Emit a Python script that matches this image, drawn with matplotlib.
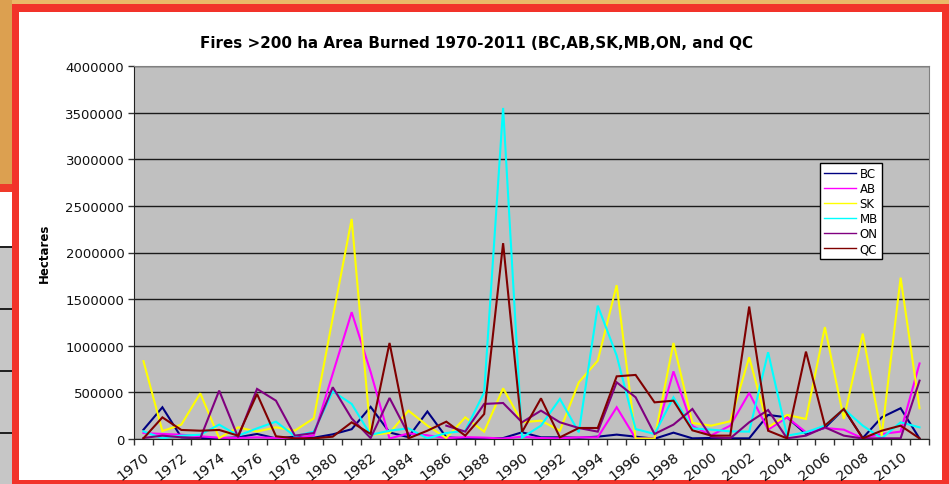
import numpy as np
import matplotlib
matplotlib.use("Agg")
import matplotlib.pyplot as plt
from matplotlib.patches import Rectangle
from matplotlib.lines import Line2D

years = list(range(1970, 2012))
tick_years = [str(y) for y in range(1970, 2011, 2)]

bc = [100000, 340000, 18000, 10000, 7000, 18000, 54000, 7000, 25000, 14000,
      50000, 105000, 345000, 70000, 20000, 295000, 18000, 7000, 10000, 10000,
      72000, 18000, 18000, 14000, 25000, 47000, 25000, 3000, 68000, 7000,
      11000, 7000, 7000, 258000, 232000, 54000, 120000, 320000, 10000, 232000,
      330000, 5000]
ab = [64000, 54000, 46000, 29000, 14000, 11000, 18000, 11000, 7000, 40000,
      700000, 1360000, 720000, 5000, 60000, 40000, 10000, 20000, 15000, 5000,
      25000, 10000, 7000, 18000, 18000, 340000, 7000, 5000, 725000, 140000,
      40000, 143000, 494000, 100000, 232000, 72000, 118000, 100000, 7000, 54000,
      79000, 810000]
sk = [835000, 85000, 154000, 490000, 10000, 125000, 80000, 125000, 90000, 222000,
      1300000, 2360000, 45000, 64000, 304000, 143000, 10000, 232000, 79000, 544000,
      179000, 197000, 89000, 608000, 840000, 1650000, 5000, 5000, 1030000, 172000,
      143000, 190000, 876000, 125000, 258000, 215000, 1200000, 215000, 1130000, 36000,
      1730000, 330000]
mb = [82000, 7000, 36000, 46000, 154000, 36000, 114000, 186000, 30000, 79000,
      510000, 376000, 45000, 89000, 114000, 7000, 64000, 89000, 500000, 3550000,
      15000, 143000, 430000, 72000, 1430000, 894000, 107000, 54000, 447000, 114000,
      100000, 82000, 79000, 930000, 36000, 72000, 143000, 322000, 143000, 7000,
      179000, 125000]
on = [11000, 36000, 18000, 7000, 519000, 18000, 537000, 411000, 36000, 64000,
      555000, 220000, 10000, 440000, 50000, np.nan, 143000, 79000, 376000, 386000,
      179000, 304000, 179000, 118000, 79000, 608000, 447000, 54000, 154000, 322000,
      20000, 7000, 179000, 311000, 7000, 36000, 125000, 36000, 5000, 7000,
      7000, 626000]
qc = [7000, 232000, 97000, 89000, 97000, 36000, 483000, 29000, 7000, 7000,
      25000, 179000, 54000, 1030000, 7000, 89000, 186000, 36000, 268000, 2100000,
      75000, 436000, 18000, 118000, 118000, 672000, 687000, 393000, 411000, 93000,
      36000, 36000, 1420000, 89000, 7000, 937000, 143000, 322000, 7000, 89000,
      143000, 7000]

series_names = ["BC", "AB", "SK", "MB", "ON", "QC"]
series_values = [bc, ab, sk, mb, on, qc]
series_colors = ["#000080", "#FF00FF", "#FFFF00", "#00FFFF", "#800080", "#800000"]

W, H = 949, 485
fig = plt.figure(figsize=(W / 100, H / 100), dpi=100)
fig.patch.set_facecolor("#e6b25e")


def px_rect(x0, y0, x1, y1, color, z=0):
    fig.patches.append(Rectangle((x0 / W, 1 - y1 / H), (x1 - x0) / W, (y1 - y0) / H,
                                 transform=fig.transFigure, facecolor=color,
                                 edgecolor="none", zorder=z))


# slide behind the chart frame
px_rect(0, 0, W, 5, "#eab868")
px_rect(0, 0, 12, 185, "#dca050")
px_rect(0, 185, 12, 193, "#f03a2a")
px_rect(0, 193, 12, 247, "#ffffff")
px_rect(0, 247, 12, H, "#c6c6c6")
for yy in (247, 309, 371, 433):
    px_rect(0, yy, 12, yy + 1.5, "#222222", z=1)

# red frame and white chart area
px_rect(12, 5, W, H, "#f2332a", z=2)
px_rect(19, 13, 942, 481, "#ffffff", z=3)

left, right, top, bottom = 134, 929, 67, 440
ax = fig.add_axes([left / W, 1 - bottom / H, (right - left) / W, (bottom - top) / H])
ax.set_zorder(5)
ax.set_facecolor("#c0c0c0")

x = np.arange(len(years))
for name, vals, col in zip(series_names, series_values, series_colors):
    ax.plot(x, np.array(vals, dtype=float), color=col, lw=1.5, label=name,
            solid_joinstyle="miter")

ax.set_xlim(-0.5, len(years) - 0.5)
ax.set_ylim(0, 4000000)

yt = np.arange(0, 4000001, 500000)
ax.set_yticks(yt)
ax.set_yticklabels([str(int(v)) for v in yt], fontsize=9.5, family="DejaVu Sans",
                   color="#111111")
ax.yaxis.grid(True, color="#1a1a1a", lw=1)
ax.set_axisbelow(True)
ax.tick_params(axis="y", length=4, width=1, color="#333333", pad=3)

ax.set_xticks(np.arange(-0.5, len(years), 1))
ax.set_xticklabels([])
ax.tick_params(axis="x", which="major", length=4, width=1, color="#333333")
ax.set_xticks([years.index(int(t)) for t in tick_years], minor=True)
ax.set_xticklabels(tick_years, minor=True, rotation=38, ha="right", va="top",
                   rotation_mode="anchor", fontsize=10.3, family="DejaVu Sans",
                   color="#111111")
ax.tick_params(axis="x", which="minor", length=0, pad=7)

for side in ("top", "right"):
    ax.spines[side].set_color("#808080")
for side in ("left", "bottom"):
    ax.spines[side].set_color("#222222")

ax.set_ylabel("Hectares", fontsize=8.5, fontweight="bold", family="DejaVu Sans")
ax.yaxis.set_label_coords(-0.104, 0.5)

fig.text(477 / W, 1 - 43 / H,
         "Fires >200 ha Area Burned 1970-2011 (BC,AB,SK,MB,ON, and QC",
         ha="center", va="center", fontsize=10.9, fontweight="bold",
         family="DejaVu Sans", zorder=6)

handles = [Line2D([], [], color=c, lw=1) for c in series_colors]
leg = ax.legend(handles, series_names, loc="upper left",
                bbox_to_anchor=(820 / W, 1 - 164 / H), bbox_transform=fig.transFigure,
                fontsize=8.5, frameon=True, fancybox=False, framealpha=1,
                borderaxespad=0, handlelength=2.7, handletextpad=0.3,
                labelspacing=0.17, borderpad=0.35)
leg.get_frame().set_edgecolor("#000000")
leg.get_frame().set_facecolor("#ffffff")
leg.get_frame().set_linewidth(1)

fig.savefig("out.png", dpi=100)
